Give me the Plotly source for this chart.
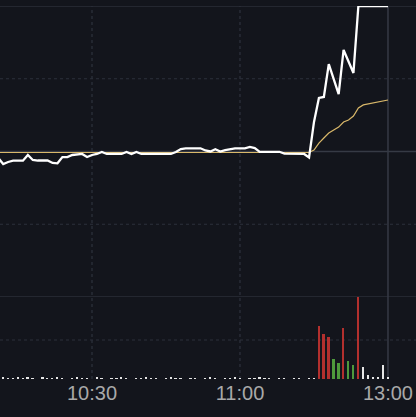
import plotly.graph_objects as go

# minutes since 9:30 (120 = 11:30 / 13:00 break)
minutes = list(range(41, 121))

price_pct = [
    -0.45, -0.86, -0.72, -0.63, -0.63, -0.63, -0.24, -0.58, -0.62, -0.62,  # 41-50
    -0.62, -0.79, -0.81, -0.38, -0.38, -0.24, -0.21, -0.17, -0.38, -0.24,  # 51-60
    -0.17, -0.03, -0.17, -0.17, -0.17, -0.17, -0.03, -0.17, -0.03, -0.17,  # 61-70
    -0.17, -0.17, -0.17, -0.17, -0.17, -0.17, -0.03, 0.17, 0.21, 0.22,     # 71-80
    0.22, 0.22, 0.07, 0.00, 0.15, 0.00, 0.10, 0.17, 0.21, 0.21,            # 81-90
    0.22, 0.31, 0.24, -0.02, -0.02, -0.02, -0.02, -0.02, -0.14, -0.14,     # 91-100
    -0.17, -0.17, -0.17, -0.41, 2.03, 3.68, 3.75, 6.01, 4.98, 3.95,        # 101-110
    6.98, 6.15, 5.40, 10.0, 10.0, 10.0, 10.0, 10.0, 10.0, 10.0,            # 111-120
]

avg_pct = [-0.07] * 64 + [
    0.10, 0.58, 0.93, 1.27, 1.48, 1.68, 2.03, 2.16, 2.44, 2.99,            # 105-114
    3.20, 3.26, 3.31, 3.37, 3.47, 3.54,                                    # 115-120
]

volume = [
    1, 2, 1, 1, 2, 1, 2, 1, 0, 2,
    1, 1, 2, 1, 0, 1, 2, 1, 1, 0,
    2, 1, 0, 1, 1, 2, 1, 0, 1, 1,
    2, 1, 1, 0, 1, 2, 1, 1, 0, 1,
    1, 0, 1, 2, 1, 0, 1, 1, 2, 1,
    0, 1, 1, 2, 1, 1, 0, 1, 1, 0,
    1, 1, 0, 1, 1,
    53, 45, 42, 20, 16, 51, 18, 14, 82, 12, 4, 2, 2, 14, 2,
]

tick_vals = [60, 90, 120]
tick_text = ["10:30", "11:00", "13:00"]

RED = "#b3302e"
GREEN = "#4e9a3c"
FLAT = "#e6e6e6"

bar_colors = []
prev = None
for p in price_pct:
    if prev is None or abs(p - prev) < 1e-9:
        bar_colors.append(FLAT)
    elif p > prev:
        bar_colors.append(RED)
    else:
        bar_colors.append(GREEN)
    prev = p
bar_colors = [FLAT if v <= 2 else c for v, c in zip(volume, bar_colors)]

BG = "#13151c"
SOLID = "#363a45"
DASH = "#2c303b"

fig = go.Figure()
fig.add_trace(go.Scatter(x=minutes, y=avg_pct, mode="lines",
                         line=dict(color="#d9b86a", width=1.2), yaxis="y", xaxis="x",
                         hoverinfo="skip"))
fig.add_trace(go.Scatter(x=minutes, y=price_pct, mode="lines",
                         line=dict(color="#ffffff", width=2.3), yaxis="y", xaxis="x",
                         hoverinfo="skip", cliponaxis=False))
fig.add_trace(go.Bar(x=minutes, y=volume, marker=dict(color=bar_colors, line=dict(width=0)),
                     width=0.36, yaxis="y2", xaxis="x", hoverinfo="skip"))

split = (379 - 297) / 373.0

shapes = []
for val, solid in [(10, True), (5, False), (0, True), (-5, False), (-10, True)]:
    shapes.append(dict(type="line", xref="paper", x0=0, x1=1, yref="y", y0=val, y1=val,
                       line=dict(color=SOLID if solid else DASH, width=1 if val != 0 else 1.5,
                                 dash="solid" if solid else "dot"), layer="below"))
shapes.append(dict(type="line", xref="paper", x0=0, x1=1, yref="y2", y0=39, y1=39,
                   line=dict(color=DASH, width=1.2, dash="dot"), layer="below"))
for val, solid in [(60, False), (90, False), (120, True)]:
    shapes.append(dict(type="line", xref="x", x0=val, x1=val, yref="paper", y0=0, y1=1,
                       line=dict(color=SOLID if solid else DASH, width=1.5 if solid else 1.3,
                                 dash="solid" if solid else "dot"), layer="below"))

fig.update_layout(
    width=416, height=417,
    margin=dict(l=0, r=0, t=6, b=38),
    paper_bgcolor=BG, plot_bgcolor=BG,
    showlegend=False,
    bargap=0,
    shapes=shapes,
    xaxis=dict(range=[41.35, 125.68], anchor="y2", tickvals=tick_vals, ticktext=tick_text,
               showgrid=False, zeroline=False, showline=False, ticks="",
               tickfont=dict(family="Liberation Sans, Arial", size=20, color="#a9a9a9")),
    yaxis=dict(domain=[split, 1], range=[-10, 10], showgrid=False, zeroline=False,
               showticklabels=False, showline=False),
    yaxis2=dict(domain=[0, split], range=[0, 82], showgrid=False, zeroline=False,
                showticklabels=False, showline=False),
)

fig.write_html("out.html", config={"displayModeBar": False},
               post_script="document.body.style.margin='0px';document.body.style.background='#13151c';")
